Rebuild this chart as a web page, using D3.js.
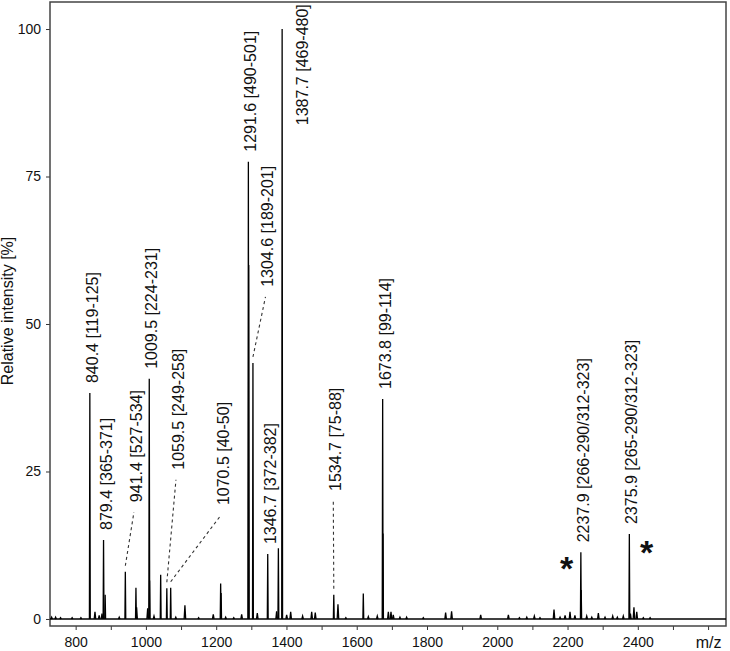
<!DOCTYPE html>
<html>
<head>
<meta charset="utf-8">
<script src="https://cdn.jsdelivr.net/npm/d3@7"></script>
<style>
  body { margin: 0; background: #fff; }
  svg { display: block; font-family: "Liberation Sans", Arial, sans-serif; }
</style>
</head>
<body>
<svg width="730" height="651"></svg>
<script>
// labelled peaks (m/z, relative intensity %)
const labelMz = [840.4, 879.4, 941.4, 1009.5, 1059.5, 1070.5, 1291.6, 1304.6, 1346.7, 1387.7, 1534.7, 1673.8, 2237.9, 2375.9];
const labelInt = [38.3, 13.4, 8.0, 40.7, 5.2, 5.3, 77.5, 43.4, 11.0, 100, 4.1, 37.3, 11.3, 14.4];
const labelText = [
  "840.4 [119-125]", "879.4 [365-371]", "941.4 [527-534]", "1009.5 [224-231]",
  "1059.5 [249-258]", "1070.5 [40-50]", "1291.6 [490-501]", "1304.6 [189-201]",
  "1346.7 [372-382]", "1387.7 [469-480]", "1534.7 [75-88]", "1673.8 [99-114]",
  "2237.9 [266-290/312-323]", "2375.9 [265-290/312-323]"
];

// unlabelled peaks and baseline bumps
const minorMz = [731.7, 743, 757, 790, 815, 855, 867, 875, 884, 924, 971.6, 973.5, 1005, 1010.5, 1023, 1042,
  1085, 1111, 1150, 1191.7, 1212.7, 1214, 1227, 1250, 1272.5, 1292.6, 1317, 1372, 1377, 1400.6, 1412, 1446,
  1471.8, 1482, 1546.6, 1569, 1618.7, 1633, 1658.5, 1674.8, 1690, 1697.5, 1704, 1723, 1742, 1789.5,
  1853, 1870, 1952.8, 2031.6, 2063, 2084, 2105.5, 2121.6, 2161.5, 2178.7, 2193, 2207, 2221, 2238.9,
  2254.6, 2269, 2287.7, 2306.7, 2328.6, 2341.7, 2358.7, 2379, 2389, 2397, 2415.7, 2435];
const minorInt = [0.3, 0.3, 0.2, 0.2, 0.2, 1.2, 0.6, 0.9, 4.1, 0.3, 5.3, 2.0, 1.8, 6.5, 0.5, 7.5,
  0.3, 2.3, 0.2, 0.8, 6.0, 4.4, 0.3, 0.2, 0.8, 60, 1.0, 1.3, 12, 0.7, 1.2, 0.5,
  1.2, 1.1, 2.5, 0.2, 4.3, 0.4, 0.5, 14.5, 1.2, 1.2, 0.7, 0.3, 0.3, 0.2,
  1.1, 1.3, 0.7, 0.7, 0.2, 0.3, 0.5, 0.2, 1.6, 0.3, 0.6, 1.2, 0.6, 4.9,
  0.5, 0.3, 1.0, 0.3, 0.5, 0.3, 0.5, 0.9, 2.0, 1.2, 0.2, 0.2];

// labels placed away from their peak (data coordinates of label start)
const movedPeak = [941.4, 1059.5, 1070.5, 1304.6, 1534.7, 1387.7];
const movedMz = [971.6, 1091.2, 1219.3, 1346, 1539, 1444];
const movedInt = [19.8, 25.3, 19.3, 56.3, 21.7, 83.7];
const leaderPeaks = [941.4, 1059.5, 1070.5, 1304.6, 1534.7];

// asterisks
const starMz = [2197.7, 2425.4];
const starInt = [9.7, 12.5];

const xTicks = [800, 900, 1000, 1100, 1200, 1300, 1400, 1500, 1600, 1700, 1800, 1900, 2000, 2100, 2200, 2300, 2400, 2500, 2600];
const yTicks = [0, 25, 50, 75, 100];

const svg = d3.select("svg");
const margin = { left: 50, right: 4, top: 2, bottom: 25 };
const width = +svg.attr("width");
const height = +svg.attr("height");

const x = d3.scaleLinear().domain([727, 2651]).range([margin.left, width - margin.right]);
const y = d3.scaleLinear().domain([-1.19, 104.58]).range([height - margin.bottom, margin.top]);

// axes
const xAxis = svg.append("g")
  .attr("transform", "translate(0," + (height - margin.bottom) + ")")
  .call(d3.axisBottom(x)
    .tickValues(xTicks)
    .tickSize(4)
    .tickPadding(7)
    .tickSizeOuter(0)
    .tickFormat(function(d) {
      if (d === 2600) return "m/z";
      return d % 200 === 0 ? d : "";
    }));
xAxis.selectAll("text").attr("font-size", function(d) { return d === 2600 ? "16px" : "14px"; })
  .attr("font-family", null).attr("fill", "#111");

const yAxis = svg.append("g")
  .attr("transform", "translate(" + margin.left + ",0)")
  .call(d3.axisLeft(y).tickValues(yTicks).tickSize(4).tickPadding(5).tickSizeOuter(0));
yAxis.selectAll("text").attr("font-size", "14px").attr("font-family", null).attr("fill", "#111");

svg.selectAll(".domain").remove();
svg.selectAll(".tick line").attr("stroke", "#333");

// frame
svg.append("rect")
  .attr("x", margin.left)
  .attr("y", margin.top)
  .attr("width", width - margin.left - margin.right)
  .attr("height", height - margin.top - margin.bottom)
  .attr("fill", "none")
  .attr("stroke", "#444")
  .attr("stroke-width", 1.5);

// y title
svg.append("text")
  .attr("transform", "translate(13," + (margin.top + (height - margin.top - margin.bottom) / 2 - 3) + ") rotate(-90)")
  .attr("text-anchor", "middle")
  .attr("font-size", "16px")
  .attr("fill", "#111")
  .text("Relative intensity [%]");

// spectrum
const line = d3.line().x(d => x(d[0])).y(d => y(d[1]));
const spec = svg.append("g")
  .attr("fill", "none")
  .attr("stroke", "#000")
  .attr("stroke-linejoin", "miter");

spec.append("path")
  .attr("d", line([[727, 0], [2651, 0]]))
  .attr("stroke-width", 1.3);

const peaks = [];
labelMz.forEach((m, i) => peaks.push({ mz: m, h: labelInt[i], w: 1.2 }));
minorMz.forEach((m, i) => peaks.push({ mz: m, h: minorInt[i], w: minorInt[i] > 3 ? 1.2 : 2.2 }));

spec.selectAll("path.peak")
  .data(peaks)
  .enter()
  .append("path")
  .attr("class", "peak")
  .attr("stroke-width", 1.3)
  .attr("d", d => line([[d.mz - d.w, 0], [d.mz, d.h], [d.mz + d.w, 0]]));

// labels
const ann = svg.append("g");
labelMz.forEach(function(m, i) {
  const k = movedPeak.indexOf(m);
  let lx, ly;
  if (k >= 0) {
    lx = x(movedMz[k]);
    ly = y(movedInt[k]);
  } else {
    lx = x(m) + 2.5;
    ly = y(labelInt[i]) - 10;
  }
  ann.append("text")
    .attr("transform", "translate(" + lx + "," + ly + ") rotate(-90)")
    .attr("dy", "0.35em")
    .attr("font-size", "16px")
    .attr("fill", "#111")
    .text(labelText[i]);

  if (leaderPeaks.indexOf(m) >= 0) {
    ann.append("line")
      .attr("x1", x(m))
      .attr("y1", y(labelInt[i]) - 6)
      .attr("x2", lx - 2)
      .attr("y2", ly + 10)
      .attr("stroke", "#333")
      .attr("stroke-width", 1.1)
      .attr("stroke-dasharray", "3,3");
  }
});

// asterisks
starMz.forEach(function(m, i) {
  ann.append("text")
    .attr("x", x(m))
    .attr("y", y(starInt[i]))
    .attr("dy", "0.55em")
    .attr("text-anchor", "middle")
    .attr("font-size", "34px")
    .attr("font-weight", "bold")
    .attr("fill", "#111")
    .text("*");
});
</script>
</body>
</html>
